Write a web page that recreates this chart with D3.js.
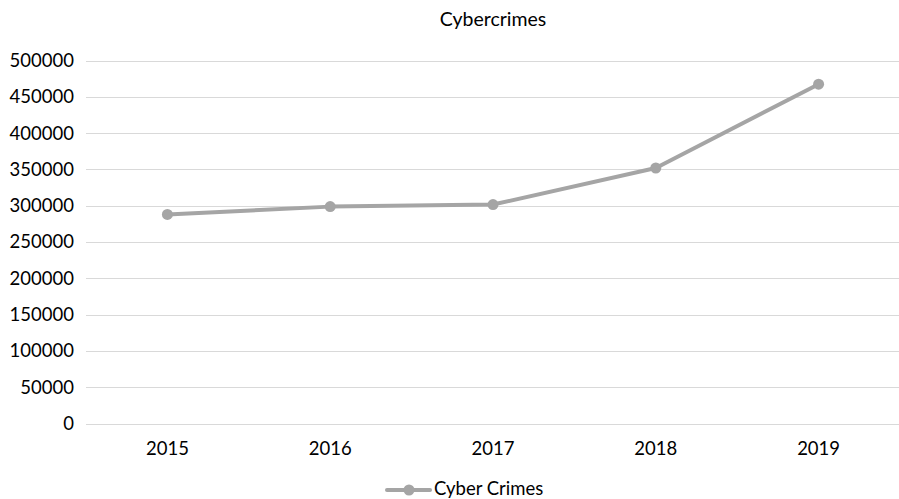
<!DOCTYPE html>
<html><head><meta charset="utf-8">
<script src="https://cdn.jsdelivr.net/npm/d3@7"></script>
<style>body{margin:0;background:#fff}svg{display:block}</style>
</head><body>
<svg id="c" width="899" height="499"></svg>
<script>
const categories = ["2015","2016","2017","2018","2019"];
const values = [288012, 298728, 301580, 351937, 467361];
const yTicks = [0,50000,100000,150000,200000,250000,300000,350000,400000,450000,500000];
const seriesName = "Cyber Crimes";
const title = "Cybercrimes";

(function(){
const svg = d3.select("#c");
const font = "Lato, 'Open Sans', sans-serif";
const pL = 86, pR = 900, pT = 60.5, pB = 423.5;
const x = d3.scaleBand().domain(categories).range([pL, pR]);
const y = d3.scaleLinear().domain([0, 500000]).range([pB, pT]);
const col = "#a5a5a5";

svg.append("g").selectAll("line").data(yTicks).join("line")
  .attr("x1", pL).attr("x2", pR)
  .attr("y1", d => Math.round(y(d)) + 0.5).attr("y2", d => Math.round(y(d)) + 0.5)
  .attr("stroke", "#d9d9d9").attr("stroke-width", 1);

svg.append("g").selectAll("text").data(yTicks).join("text")
  .attr("x", 74).attr("y", d => y(d)).attr("dy", "0.35em")
  .attr("text-anchor", "end").attr("font-family", font).attr("font-size", 18.5)
  .attr("fill", "#000").text(d => d);

svg.append("g").selectAll("text").data(categories).join("text")
  .attr("x", d => x(d) + x.bandwidth()/2).attr("y", 455)
  .attr("text-anchor", "middle").attr("font-family", font).attr("font-size", 18.5)
  .attr("fill", "#000").text(d => d);

svg.append("text").attr("x", (pL+pR)/2).attr("y", 26)
  .attr("text-anchor", "middle").attr("font-family", font).attr("font-size", 19.5)
  .attr("fill", "#000").text(title);

const pts = categories.map((c,i) => [x(c) + x.bandwidth()/2, y(values[i])]);
svg.append("path").attr("d", d3.line()(pts))
  .attr("fill", "none").attr("stroke", col).attr("stroke-width", 4)
  .attr("stroke-linecap", "round").attr("stroke-linejoin", "round");
svg.append("g").selectAll("circle").data(pts).join("circle")
  .attr("cx", d => d[0]).attr("cy", d => d[1]).attr("r", 5.5).attr("fill", col);

const lg = svg.append("g");
lg.append("line").attr("x1", 387).attr("x2", 430).attr("y1", 490).attr("y2", 490)
  .attr("stroke", col).attr("stroke-width", 4).attr("stroke-linecap", "round");
lg.append("circle").attr("cx", 409).attr("cy", 490).attr("r", 5.5).attr("fill", col);
lg.append("text").attr("x", 434).attr("y", 495).attr("font-family", font)
  .attr("font-size", 18.5).attr("fill", "#000").text(seriesName);
})();
</script>
</body></html>
